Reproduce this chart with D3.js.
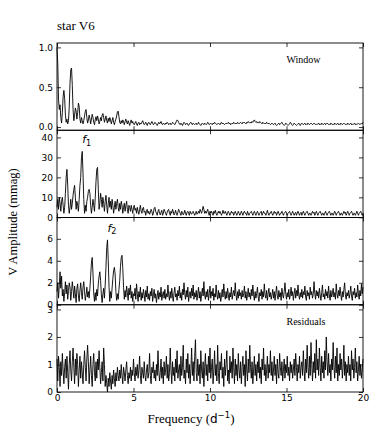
<!DOCTYPE html>
<html>
<head>
<meta charset="utf-8">
<script src="https://cdn.jsdelivr.net/npm/d3@7"></script>
<style>
  body { margin: 0; background: #fff; }
</style>
</head>
<body>
<div id="wrapper"></div>
<script>
// frequency grid step (d^-1), values start at f = 0
const freqStep = 0.05

// spectral window (normalised)
const windowAmp = [
  1.00,0.80,0.35,0.22,0.28,0.12,0.05,0.18,0.38,0.46,0.36,0.15,0.06,0.10,0.04,0.08,0.25,0.55,0.72,0.74,0.52,
  0.22,0.08,0.15,0.24,0.20,0.10,0.18,0.30,0.26,0.10,0.05,0.12,0.08,0.04,0.08,0.14,0.20,0.22,0.12,0.05,
  0.09,0.15,0.11,0.04,0.10,0.16,0.12,0.06,0.03,0.09,0.13,0.08,0.14,0.10,0.04,0.07,0.12,0.08,0.15,0.17,
  0.12,0.06,0.10,0.14,0.08,0.05,0.11,0.07,0.12,0.09,0.04,0.08,0.12,0.06,0.03,0.07,0.10,0.14,0.19,0.20,
  0.13,0.06,0.04,0.08,0.05,0.09,0.06,0.03,0.07,0.10,0.06,0.04,0.08,0.05,0.02,0.06,0.09,0.05,0.07,0.04,
  0.03,0.05,0.07,0.04,0.02,0.05,0.06,0.03,0.05,0.04,0.06,0.08,0.05,0.03,0.04,0.06,0.04,0.02,0.05,0.06,
  0.04,0.03,0.05,0.07,0.05,0.03,0.04,0.06,0.05,0.03,0.02,0.04,0.06,0.04,0.05,0.07,0.04,0.03,0.05,0.04,
  0.03,0.05,0.04,0.06,0.05,0.03,0.04,0.05,0.03,0.04,0.06,0.05,0.04,0.03,0.05,0.07,0.09,0.08,0.06,0.04,
  0.03,0.05,0.04,0.02,0.04,0.06,0.05,0.03,0.04,0.05,0.03,0.02,0.04,0.05,0.06,0.04,0.03,0.05,0.04,0.03,
  0.04,0.05,0.03,0.04,0.06,0.04,0.03,0.02,0.04,0.05,0.04,0.03,0.05,0.04,0.03,0.04,0.06,0.05,0.03,0.04,
  0.05,0.04,0.03,0.05,0.04,0.06,0.05,0.04,0.03,0.04,0.05,0.04,0.03,0.05,0.06,0.04,0.05,0.04,0.03,0.04,
  0.05,0.04,0.05,0.06,0.04,0.05,0.03,0.04,0.05,0.04,0.06,0.05,0.04,0.05,0.04,0.06,0.05,0.04,0.05,0.06,
  0.05,0.04,0.06,0.05,0.06,0.05,0.04,0.06,0.05,0.07,0.06,0.05,0.06,0.05,0.07,0.06,0.08,0.09,0.07,0.06,
  0.07,0.05,0.06,0.05,0.07,0.06,0.05,0.04,0.06,0.05,0.04,0.05,0.04,0.06,0.05,0.04,0.05,0.04,0.03,0.04,
  0.05,0.04,0.03,0.04,0.05,0.03,0.02,0.03,0.04,0.05,0.03,0.04,0.05,0.06,0.04,0.03,0.02,0.03,0.05,0.04,
  0.03,0.02,0.03,0.04,0.06,0.05,0.03,0.02,0.03,0.05,0.04,0.03,0.02,0.03,0.04,0.05,0.03,0.02,0.04,0.05,
  0.04,0.03,0.04,0.05,0.03,0.04,0.03,0.05,0.04,0.03,0.04,0.05,0.04,0.03,0.04,0.05,0.04,0.03,0.04,0.03,
  0.04,0.05,0.03,0.04,0.03,0.05,0.04,0.03,0.04,0.05,0.03,0.04,0.05,0.04,0.03,0.04,0.03,0.05,0.04,0.03,
  0.04,0.03,0.05,0.04,0.03,0.04,0.05,0.03,0.04,0.03,0.05,0.04,0.03,0.04,0.05,0.04,0.03,0.04,0.03,0.05,
  0.04,0.03,0.04,0.05,0.03,0.04,0.03,0.04,0.05,0.03,0.04,0.03,0.04,0.05,0.04,0.03,0.04,0.05,0.04,0.06
]

// amplitude spectrum of the data (mmag)
const f1Amp = [
  5,9,4,10,7,3,8,10,6,2,5,12,20,24,16,6,2,5,9,4,7,
  11,14,16,10,4,8,6,3,9,16,20,30,33,22,9,2,6,3,8,10,
  13,14,12,6,2,5,9,6,3,10,18,24,25,14,4,7,12,9,5,10,
  7,3,8,11,6,2,7,10,5,8,4,9,6,2,5,8,4,7,9,5,
  3,7,4,8,6,2,5,7,3,6,8,4,2,6,5,3,6,4,2,5,
  6,3.5,4.5,2,5,3,1.5,4,6,3,2,4.5,5,2.5,3,1,3.5,4,2,3,
  1.5,2.5,4,3,1,2,4.5,5,3,2,1,3,4,2,1.2,2.5,3.5,1,2,4,
  3,2,1,2.5,3.5,4,2,1,3,2,4,3,1.2,2,3.5,2,1,2.5,4,3,
  2,1,3,2.5,1.2,2,3.5,2,1,2.5,3,2,1,3,2,1.5,2.5,3,2,1,
  2,3,1.5,2,3,2,4,3,2,3.5,5.5,4,2,3,2,3,4,2,1,3,
  2,3,2,1,3,2,3.5,2,1,2,3,2,3,2,1,2,3.5,2,2,3,
  2,1,2.5,3,2,1,2,3,2,2.5,1,2,3,2,1,2,3,2,1,2,
  3,2,1,2.5,3,2,2,1,3,2,1,2,2.5,3,2,1,2,3,2,1,
  2,3,2,1,2,2.5,3,1,2,3,2,2,1,2,3.5,2,1,2,2,3,
  2,1,2,3,2,2.5,1,2,3,2,1,2,2,3,2,1,2,2.5,3,2,
  1,2,2.5,3,2,1,2,3,2,1,2,2.5,1,2,3,2,1,2,2.5,1,
  2,3,2,1,2,2.5,3,2,1,2,2,1,2,3,2,2.5,1,2,3,2,
  1,2,2.5,3,2,1,2,2,1,2,3,2,1,2,2.5,3,2,1,2,2,
  1,2,3,2,1,2,2.5,3,2,1,2,2,1,2,3,2,2.5,1,2,3,
  2,1,2,2.5,3,2,1,2,2,1,2,3,2,1,2,2.5,3,2,1,2
]

// after prewhitening f1 (mmag)
const f2Amp = [
  1.2,2.0,0.6,1.8,3.0,1.5,2.6,0.8,1.4,0.3,1.1,2.1,1.0,1.8,0.5,1.3,2.0,1.6,0.4,1.2,2.1,
  1.4,0.6,1.7,1.0,0.2,1.5,1.9,0.8,0.3,1.3,2.0,1.1,0.5,1.6,2.1,1.2,0.4,0.9,1.6,0.7,
  1.2,0.6,1.5,2.6,3.8,4.3,2.9,1.0,0.3,1.1,0.4,1.4,0.8,1.9,2.6,3.0,2.2,0.9,0.2,1.0,
  1.5,0.6,1.8,3.4,5.2,5.9,4.0,1.6,0.3,1.2,0.6,1.5,2.4,3.1,3.4,2.8,1.2,0.4,1.0,0.5,
  1.4,2.2,3.5,4.3,4.5,3.3,1.6,0.5,1.3,0.7,1.7,1.1,0.4,1.5,0.9,1.8,0.6,1.2,0.3,1.0,
  0.8,1.5,0.5,1.9,1.0,0.3,1.2,0.7,1.6,0.4,1.1,0.6,1.4,0.9,0.3,1.3,0.7,1.7,0.5,1.0,
  0.4,1.2,0.8,1.5,0.3,0.9,1.4,0.6,1.0,0.2,0.8,1.3,0.5,1.1,0.7,1.6,0.4,0.9,1.2,0.6,
  1.4,0.5,1.0,0.7,1.8,0.9,0.4,1.2,0.6,1.5,0.8,0.3,1.1,1.6,0.7,1.0,0.4,1.3,0.8,1.7,
  0.6,1.1,0.4,1.4,0.9,2.0,1.0,0.5,1.3,0.7,1.6,0.3,0.9,1.2,0.6,1.5,0.8,1.8,0.5,1.1,
  0.7,1.3,0.4,1.0,1.6,0.6,1.2,0.3,0.9,1.5,0.8,2.1,0.9,0.5,1.2,0.7,1.4,0.4,1.0,1.7,
  0.6,1.2,0.8,1.5,0.4,1.0,0.7,1.8,0.9,0.5,1.3,0.6,1.1,0.3,0.8,1.4,0.7,1.9,1.0,0.5,
  1.2,0.6,1.5,0.9,0.4,1.1,0.7,1.6,0.5,1.0,1.3,0.8,2.0,0.9,0.4,1.2,0.6,1.4,0.8,1.1,
  0.5,1.3,0.7,1.0,1.7,0.6,1.2,0.4,0.9,1.5,0.7,1.1,0.5,1.4,0.8,1.8,0.9,0.4,1.2,0.6,
  1.0,1.6,0.7,0.3,1.1,0.8,1.4,0.5,1.2,0.7,1.9,0.9,0.6,1.3,0.4,1.0,1.5,0.7,1.1,0.5,
  0.9,1.4,0.6,1.2,0.4,1.0,1.7,0.8,0.5,1.3,0.7,1.1,0.4,1.5,0.9,0.6,1.2,2.0,1.0,0.5,
  1.1,0.7,1.4,0.5,0.9,1.6,0.8,1.2,0.4,1.0,1.5,0.6,1.3,0.8,1.8,0.9,0.5,1.1,0.7,1.4,
  0.6,1.2,0.9,1.7,0.7,0.4,1.3,0.8,1.1,0.5,1.6,0.9,1.2,0.6,1.0,2.1,1.0,0.5,1.3,0.8,
  1.2,0.6,1.5,0.9,0.4,1.1,1.8,0.7,1.0,0.5,1.4,0.8,1.2,0.6,1.7,0.9,0.4,1.3,0.7,1.0,
  1.5,0.7,1.1,0.5,1.9,1.0,0.6,1.3,0.8,1.6,0.9,0.4,1.2,0.7,1.4,2.0,0.9,0.5,1.1,0.8,
  1.3,0.6,1.0,1.7,0.8,0.4,1.2,0.9,1.5,0.6,1.1,0.7,1.8,1.0,0.5,1.3,0.8,1.9,1.0,1.6
]

// residuals after prewhitening f1 and f2 (mmag)
const residualAmp = [
  1.2,0.4,1.3,0.9,0.2,1.1,0.6,1.4,0.8,0.3,0.9,1.2,0.5,1.3,0.7,0.1,1.0,1.5,0.8,0.4,1.1,
  1.6,0.9,0.3,1.2,0.6,1.4,1.0,0.2,0.8,1.3,0.5,1.1,0.7,0.3,1.0,1.5,0.9,0.4,1.2,1.7,
  1.1,0.3,0.8,1.3,0.6,0.2,1.0,1.4,0.7,0.4,1.1,0.5,1.2,0.8,1.5,0.9,0.3,0.7,1.1,0.4,
  1.6,1.0,0.2,0.6,0.3,0.0,0.5,0.2,0.7,0.4,0.1,0.6,0.3,0.8,0.5,0.2,0.7,0.4,0.9,0.6,
  0.4,0.8,0.5,1.0,0.6,0.3,0.9,0.7,0.4,0.8,1.1,0.6,0.3,0.7,0.5,0.9,0.4,0.8,0.6,1.2,
  0.7,0.4,0.9,0.6,1.0,0.5,0.8,1.3,0.6,0.3,0.9,0.7,0.5,1.1,0.6,0.4,0.8,1.0,0.5,0.7,
  1.4,0.6,0.3,0.9,0.7,1.1,0.5,0.8,0.4,1.0,0.6,1.5,0.8,0.4,0.7,1.2,0.5,0.9,0.3,1.1,
  0.6,0.8,1.3,0.5,1.0,0.4,0.7,1.6,0.8,0.3,1.1,0.6,0.9,0.4,1.2,0.7,1.5,0.5,0.8,1.0,
  0.4,1.3,0.6,0.9,1.7,0.5,0.8,0.3,1.2,0.7,1.4,0.5,1.0,0.3,0.8,1.6,0.6,1.1,0.4,1.3,
  1.9,0.7,0.4,1.2,0.6,1.0,0.3,1.5,0.8,0.5,1.1,0.2,0.9,1.4,0.6,1.0,0.4,1.3,0.7,1.6,
  0.5,0.9,1.2,0.3,0.8,1.5,0.6,1.0,0.4,1.7,0.7,0.3,1.1,0.8,1.4,0.5,0.9,0.2,1.2,0.6,
  1.0,1.5,0.4,0.8,0.3,1.3,0.7,1.1,0.5,1.6,0.9,0.3,1.2,0.6,1.0,0.4,1.4,0.8,0.5,1.1,
  0.3,0.9,1.3,0.6,1.0,0.2,1.5,0.8,0.4,1.2,0.7,1.7,0.9,0.5,1.1,0.3,0.8,1.3,0.6,1.0,
  0.4,1.1,0.7,1.4,0.5,0.9,0.3,1.2,0.8,1.6,0.6,1.0,0.4,0.8,1.3,0.5,1.0,0.7,1.5,0.6,
  1.1,0.4,0.8,1.3,0.6,1.0,0.3,1.2,0.7,0.5,1.4,0.9,0.6,1.1,0.4,0.8,1.2,0.5,1.0,0.7,
  1.3,0.6,0.9,0.4,1.1,0.7,1.0,0.5,0.8,1.2,0.6,1.4,0.9,0.4,1.0,0.7,1.3,0.5,0.9,1.1,
  0.6,1.5,0.8,0.4,1.2,0.7,1.7,0.9,0.5,1.3,0.6,1.8,1.0,0.4,1.1,0.7,1.4,0.5,1.9,0.8,
  1.2,0.6,1.6,0.9,0.4,1.3,0.7,1.1,0.5,1.5,0.8,2.0,1.1,0.6,1.4,0.7,1.0,0.4,1.2,0.8,
  1.8,0.9,0.5,1.3,0.7,1.6,0.4,1.0,0.6,1.4,0.8,1.2,0.5,0.9,1.7,0.6,1.1,0.4,1.0,0.7,
  1.3,0.6,1.0,0.4,1.5,0.8,1.2,0.5,0.9,1.6,0.7,1.1,0.4,0.8,1.3,0.6,1.0,0.5,0.8,1.2
]

const xTicks = [0, 5, 10, 15, 20]
const yTickSets = [[0, 0.5, 1.0], [0, 10, 20, 30, 40], [0, 2, 4, 6], [0, 1, 2, 3]]
const panelNotes = ["Window", "", "", "Residuals"]
// labelled peaks: panel index, frequency, amplitude, subscript
const peakPanels = [1, 2]
const peakFreqs = [1.65, 3.30]
const peakAmps = [33, 5.9]
const peakNames = ["1", "2"]

function drawPeriodograms() {

  const series = [windowAmp, f1Amp, f2Amp, residualAmp]
  const yDomains = [[-0.04, 1.055], [-0.1, 43.6], [0, 7.94], [0, 3.17]]
  const yFormats = [d3.format(".1f"), d3.format("d"), d3.format("d"), d3.format("d")]

  let dms = {
    width: 382,
    height: 436,
    margin: {
      top: 43,
      right: 19,
      bottom: 44,
      left: 57,
    },
  }
  dms.boundedWidth = dms.width - dms.margin.left - dms.margin.right
  dms.boundedHeight = dms.height - dms.margin.top - dms.margin.bottom
  const panelHeight = dms.boundedHeight / series.length

  const wrapper = d3.select("#wrapper")
    .append("svg")
    .attr("width", dms.width)
    .attr("height", dms.height)
    .style("display", "block")

  const bounds = wrapper.append("g")
    .attr("transform", `translate(${dms.margin.left},${dms.margin.top})`)

  const xScale = d3.scaleLinear()
    .domain([0, 20])
    .range([0, dms.boundedWidth])

  const tickFont = "'DejaVu Sans', sans-serif"
  const serif = "'Liberation Serif', 'Times New Roman', serif"

  const styleAxis = g => {
    g.select(".domain").remove()
    g.selectAll(".tick line").attr("stroke", "#000").attr("stroke-width", 0.8)
    g.selectAll("text")
      .attr("fill", "#000")
      .style("font-family", tickFont)
      .style("font-size", "9px")
  }

  series.forEach((values, p) => {
    const panel = bounds.append("g")
      .attr("transform", `translate(0,${p * panelHeight})`)

    const yScale = d3.scaleLinear()
      .domain(yDomains[p])
      .range([panelHeight, 0])

    const line = d3.line()
      .x((d, i) => xScale(i * freqStep))
      .y(d => yScale(d))

    panel.append("path")
      .datum(values)
      .attr("d", line)
      .attr("fill", "none")
      .attr("stroke", "#000")
      .attr("stroke-width", 0.9)
      .attr("stroke-linejoin", "round")

    // inward ticks on all four sides
    panel.append("g")
      .call(d3.axisLeft(yScale).tickValues(yTickSets[p]).tickFormat(yFormats[p])
        .tickSizeInner(-4).tickSizeOuter(0).tickPadding(4))
      .call(styleAxis)

    panel.append("g")
      .attr("transform", `translate(${dms.boundedWidth},0)`)
      .call(d3.axisRight(yScale).tickValues(yTickSets[p]).tickFormat("")
        .tickSizeInner(-4).tickSizeOuter(0))
      .call(styleAxis)

    panel.append("g")
      .call(d3.axisTop(xScale).tickValues(xTicks).tickFormat("")
        .tickSizeInner(-4).tickSizeOuter(0))
      .call(styleAxis)

    const isLast = p === series.length - 1
    panel.append("g")
      .attr("transform", `translate(0,${panelHeight})`)
      .call(d3.axisBottom(xScale).tickValues(xTicks)
        .tickFormat(isLast ? d3.format("d") : "")
        .tickSizeInner(-4).tickSizeOuter(0).tickPadding(3))
      .call(styleAxis)

    panel.append("rect")
      .attr("width", dms.boundedWidth)
      .attr("height", panelHeight)
      .attr("fill", "none")
      .attr("stroke", "#000")
      .attr("stroke-width", 0.9)

    if (panelNotes[p]) {
      panel.append("text")
        .attr("x", xScale(15))
        .attr("y", 20)
        .attr("font-family", serif)
        .attr("font-size", 10)
        .text(panelNotes[p])
    }

    peakPanels.forEach((pp, k) => {
      if (pp !== p) return
      const label = panel.append("text")
        .attr("x", xScale(peakFreqs[k]))
        .attr("y", yScale(peakAmps[k]) - 8)
        .attr("font-family", tickFont)
        .attr("font-size", 11)
      label.append("tspan").attr("font-style", "italic").text("f")
      label.append("tspan").attr("font-size", 8).attr("dy", 2.5).text(peakNames[k])
    })
  })

  // titles
  wrapper.append("text")
    .attr("x", dms.margin.left)
    .attr("y", 30)
    .attr("font-family", serif)
    .attr("font-size", 13)
    .text("star V6")

  wrapper.append("text")
    .attr("transform", `translate(17,${dms.height / 2 + 4}) rotate(-90)`)
    .attr("text-anchor", "middle")
    .attr("font-family", serif)
    .attr("font-size", 12.5)
    .text("V Amplitude (mmag)")

  const xLabel = wrapper.append("text")
    .attr("x", dms.width / 2)
    .attr("y", 423)
    .attr("text-anchor", "middle")
    .attr("font-family", serif)
    .attr("font-size", 13)
  xLabel.append("tspan").text("Frequency (")
  xLabel.append("tspan").attr("font-family", tickFont).attr("font-size", 12).text("d")
  xLabel.append("tspan").attr("font-family", tickFont).attr("font-size", 8.5).attr("dy", -5).text("\u22121")
  xLabel.append("tspan").attr("dy", 5).text(")")
}

drawPeriodograms()
</script>
</body>
</html>
